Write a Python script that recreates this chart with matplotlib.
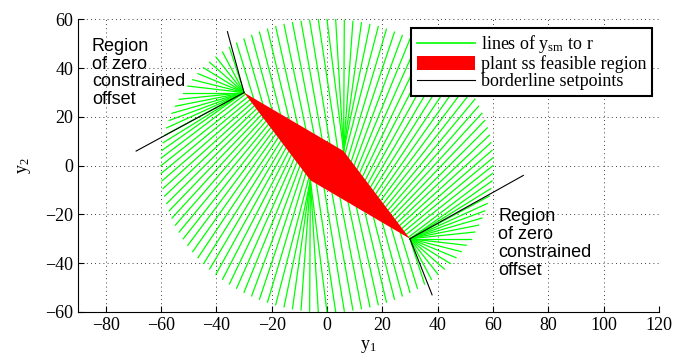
import numpy as np
import matplotlib.pyplot as plt
from matplotlib.patches import Polygon
from matplotlib.lines import Line2D

plt.rcParams['font.family'] = ['Liberation Serif', 'DejaVu Serif']
plt.rcParams['mathtext.fontset'] = 'custom'
plt.rcParams['mathtext.rm'] = 'Liberation Serif'
plt.rcParams['mathtext.it'] = 'Liberation Serif'

# plant steady-state feasible region, vertices A, B, C, D (clockwise)
region_y1 = [-30, 6, 30, -6]
region_y2 = [30, 6, -30, -6]

# direction (deg) of the lines y_sm -> r at the start / end of each edge
# edges A-B, B-C, C-D, D-A
edge_ang_start = [106, 78, 286, 258]
edge_ang_end = [97, 40, 277, 220]

# setpoints r on a circle around the origin
setpoint_radius = 60
setpoint_step_deg = 3

# borderline setpoint lines (start, end)
border_y1 = [[-30, -69], [-30, -36], [30, 71], [30, 38]]
border_y2 = [[30, 6], [30, 55], [-30, -4], [-30, -53]]

xticks = [-80, -60, -40, -20, 0, 20, 40, 60, 80, 100, 120]
yticks = [-60, -40, -20, 0, 20, 40, 60]


def rayo(p, a):
    # where the ray from p with direction a (deg) meets the setpoint circle
    d = np.array([np.cos(np.deg2rad(a)), np.sin(np.deg2rad(a))])
    pd = p @ d
    t = -pd + np.sqrt(pd ** 2 - p @ p + setpoint_radius ** 2)
    r = p + t * d
    return np.arctan2(r[1], r[0])


def borde(verts):
    # walk the boundary (vertex fans and edges), keep circle angle -> point
    th, px, py = [], [], []
    n = len(verts)
    for i in range(n):
        v = verts[i]
        w = verts[(i + 1) % n]
        a_prev = edge_ang_end[i - 1]
        a_next = edge_ang_start[i]
        if a_prev < a_next:
            a_prev += 360
        for a in np.linspace(a_prev, a_next, 200):
            th.append(rayo(v, a)); px.append(v[0]); py.append(v[1])
        a0, a1 = edge_ang_start[i], edge_ang_end[i]
        for s in np.linspace(0, 1, 400):
            p = v + s * (w - v)
            th.append(rayo(p, a0 + s * (a1 - a0))); px.append(p[0]); py.append(p[1])
    th = np.unwrap(np.array(th))
    return th, np.array(px), np.array(py)


fig = plt.figure(figsize=(6.73, 3.54), dpi=100)
ax = fig.add_axes([0.116, 0.119, 0.863, 0.826])

verts = np.column_stack([region_y1, region_y2]).astype(float)
th, px, py = borde(verts)
orden = np.argsort(th)
th, px, py = th[orden], px[orden], py[orden]
ang = np.deg2rad(np.arange(0, 360, setpoint_step_deg))
for t in ang:
    tt = t
    while tt < th[0]:
        tt += 2 * np.pi
    while tt > th[-1]:
        tt -= 2 * np.pi
    p = (np.interp(tt, th, px), np.interp(tt, th, py))
    r = (setpoint_radius * np.cos(t), setpoint_radius * np.sin(t))
    ax.plot([p[0], r[0]], [p[1], r[1]], color=(0, 1, 0), lw=0.9, zorder=2)

ax.add_patch(Polygon(verts, closed=True, facecolor='red', edgecolor='none', zorder=3))

for bx, by in zip(border_y1, border_y2):
    ax.plot(bx, by, color='black', lw=0.8, zorder=4)

txt = "Region\nof zero\nconstrained\noffset"
ax.text(-85, 52.5, txt, family='Liberation Sans', fontsize=13, va='top', ha='left',
        linespacing=1.06, zorder=5)
ax.text(62, -17.5, txt, family='Liberation Sans', fontsize=13, va='top', ha='left',
        linespacing=1.06, zorder=5)

ax.set_xlim(-90, 120)
ax.set_ylim(-60, 60)
ax.set_xticks(xticks)
ax.set_yticks(yticks)
ax.tick_params(direction='in', labelsize=13, length=4, width=0.8)
ax.grid(True, color='black', linestyle=(0, (1, 4)), lw=0.6)
ax.set_axisbelow(True)
ax.spines['top'].set_visible(False)
ax.spines['right'].set_visible(False)
ax.set_xlabel('$y_1$', fontsize=13, labelpad=3)
ax.set_ylabel('$y_2$', fontsize=13, labelpad=9)

handles = [Line2D([], [], color=(0, 1, 0), lw=1.2),
           plt.Rectangle((0, 0), 1, 1, facecolor='red', edgecolor='none'),
           Line2D([], [], color='black', lw=0.8)]
labels = ['lines of $y_{sm}$ to r', 'plant ss feasible region', 'borderline setpoints']
leg = ax.legend(handles, labels, loc='upper right', bbox_to_anchor=(0.988, 0.971),
                borderaxespad=0, fontsize=13, fancybox=False, framealpha=1,
                edgecolor='black', handlelength=3.2, handleheight=0.8,
                labelspacing=0.0, borderpad=0.3, handletextpad=0.35)
leg.get_frame().set_linewidth(1.5)
leg.set_zorder(6)

fig.savefig('out.png', dpi=100)
